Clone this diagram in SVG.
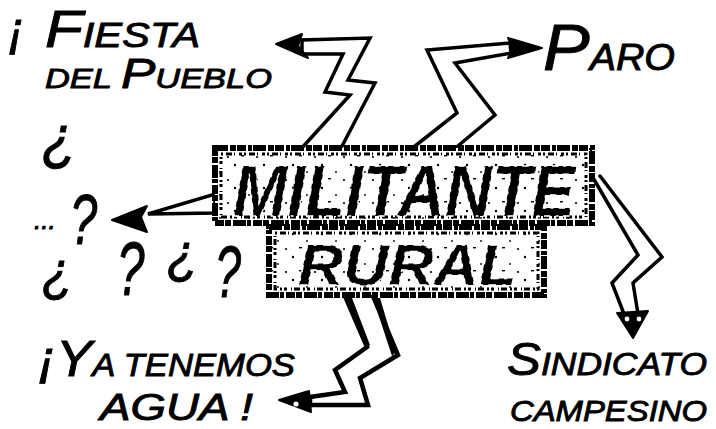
<svg xmlns="http://www.w3.org/2000/svg" width="716" height="429" viewBox="0 0 716 429">
<defs>
<style>
.hand{font-family:"Liberation Sans","DejaVu Sans",sans-serif;font-style:italic;fill:#000;stroke:#000;stroke-width:0.9}
.band{fill:#fff;stroke:#000;stroke-width:3.5;stroke-linejoin:miter;stroke-linecap:round}
.head{fill:#000;stroke:#000;stroke-width:2;stroke-linejoin:round}
.boxo{fill:#fff;stroke:#000;stroke-width:6;stroke-dasharray:13 2 6 1 9 2 4 1}
.boxi{fill:none;stroke:#000;stroke-width:3;stroke-dasharray:2 3 6 2 1 4 3 2}
.big{font-family:"Liberation Sans","DejaVu Sans",sans-serif;font-style:italic;font-weight:bold;fill:#000}
.streak{fill:none;stroke:#fff;stroke-width:1.4;stroke-dasharray:7 5 3 6}
</style>
<pattern id="speck" width="29" height="23" patternUnits="userSpaceOnUse">
<circle cx="3" cy="4" r="1.2" fill="#000"/>
<circle cx="17" cy="11" r="0.9" fill="#000"/>
<circle cx="25" cy="19" r="1.1" fill="#000"/>
<rect x="9" y="17" width="3" height="1.4" fill="#000"/>
</pattern>
</defs>
<rect width="716" height="429" fill="#fff"/>

<g id="connectors">
<path class="band" d="M300,150 L350,95 L325,92 L343,54 L302,54 L302,40 L370,38 L348,80 L375,83 L340,150"/>
<polygon class="head" points="276,44 302,34 298,46 308,58"/>
<path class="band" d="M410,150 L457,113 L427,50 L510,43 L511,53 L455,63 L495,115 L453,150"/>
<polygon class="head" points="542,48 508,38 513,48 508,58"/>
<path class="band" d="M148,214 L215,194 L215,213 Z"/>
<polygon class="head" points="112,220 147,206 141,217 147,232"/>
<path class="band" style="stroke-width:4.5" d="M345,296 L367,347 L335,370 L345,392 L310,397 L310,405 L368,405 L360,378 L398,355 L373,296"/>
<polygon fill="#000" points="345,298 352,298 370,345 366,349"/>
<polygon fill="#000" points="373,298 380,298 396,352 392,356"/>
<polygon class="head" points="279,400 309,391 311,412"/>
<circle cx="296" cy="404" r="2.6" fill="#fff"/>
<path class="band" d="M592,176 L638,255 L612,283 L624,314 L638,314 L633,283 L662,257 L600,176"/>
<polygon class="head" points="617,313 648,311 633,338"/>
<circle cx="627" cy="319" r="2.4" fill="#fff"/>
<circle cx="639" cy="319" r="2.4" fill="#fff"/>
</g>

<g id="militante-rural">
<rect class="boxo" x="215" y="148" width="377" height="75"/>
<rect x="218" y="151" width="371" height="69" fill="url(#speck)"/>
<rect class="boxi" x="221" y="154" width="365" height="63"/>
<rect class="boxo" x="269" y="227" width="275" height="68"/>
<rect x="272" y="230" width="269" height="62" fill="url(#speck)"/>
<rect class="boxi" x="275" y="233" width="263" height="56"/>
<text class="big" x="233" y="216" font-size="72" textLength="342" lengthAdjust="spacingAndGlyphs">MILITANTE</text>
<text class="big streak" x="233" y="216" font-size="72" textLength="342" lengthAdjust="spacingAndGlyphs">MILITANTE</text>
<text class="big" x="298" y="285" font-size="58" textLength="219" lengthAdjust="spacingAndGlyphs">RURAL</text>
<text class="big streak" x="298" y="285" font-size="58" textLength="219" lengthAdjust="spacingAndGlyphs">RURAL</text>
</g>

<g id="fiesta">
<text class="hand" x="8" y="47" font-size="50">¡</text>
<text class="hand" x="45" y="47" textLength="155" lengthAdjust="spacingAndGlyphs"><tspan font-size="52">F</tspan><tspan font-size="35">IESTA</tspan></text>
<text class="hand" x="45" y="88" textLength="227" lengthAdjust="spacingAndGlyphs"><tspan font-size="28">DEL </tspan><tspan font-size="42">P</tspan><tspan font-size="28">UEBLO</tspan></text>
</g>

<g id="paro">
<text class="hand" x="543" y="70" textLength="132" lengthAdjust="spacingAndGlyphs"><tspan font-size="64">P</tspan><tspan font-size="36">ARO</tspan></text>
</g>

<g id="preguntas">
<text class="hand" transform="translate(42,158) scale(0.9,1)" font-size="62">¿</text>
<text class="hand" x="34" y="229" font-size="26">...</text>
<text class="hand" transform="translate(70,244) scale(0.7,1)" font-size="70">?</text>
<text class="hand" transform="translate(42,290) scale(0.9,1)" font-size="56">¿</text>
<text class="hand" transform="translate(117,295) scale(0.65,1)" font-size="76">?</text>
<text class="hand" transform="translate(167,272) scale(0.9,1)" font-size="56">¿</text>
<text class="hand" transform="translate(215,297) scale(0.65,1)" font-size="72">?</text>
</g>

<g id="agua">
<text class="hand" x="38" y="376" textLength="257" lengthAdjust="spacingAndGlyphs"><tspan font-size="50">¡Y</tspan><tspan font-size="32">A TENEMOS</tspan></text>
<text class="hand" x="100" y="420" font-size="37" textLength="153" lengthAdjust="spacingAndGlyphs">AGUA !</text>
</g>

<g id="sindicato">
<text class="hand" x="507" y="375" textLength="200" lengthAdjust="spacingAndGlyphs"><tspan font-size="46">S</tspan><tspan font-size="32">INDICATO</tspan></text>
<text class="hand" x="510" y="421" font-size="30" textLength="197" lengthAdjust="spacingAndGlyphs">CAMPESINO</text>
</g>
</svg>
